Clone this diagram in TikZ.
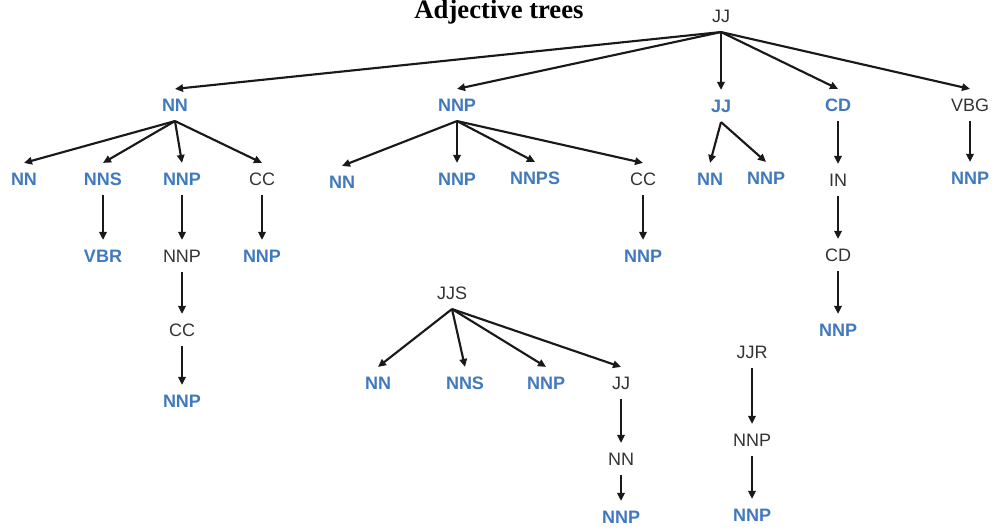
\documentclass[tikz,border=0pt]{standalone}
\usepackage{fontspec}
\setmainfont{Liberation Sans}
\newfontfamily\titlefont{Liberation Serif}
\usetikzlibrary{arrows.meta}
\definecolor{tagblue}{HTML}{4079BD}
\definecolor{taggray}{HTML}{333333}
\begin{document}
\begin{tikzpicture}[x=0.75pt,y=-0.75pt,
  tag/.style={inner xsep=0pt,inner ysep=7pt,text height=9.7pt,text depth=0pt,
    font=\fontsize{13.5pt}{14pt}\selectfont,text=taggray},
  btag/.style={tag,font=\fontsize{13.5pt}{14pt}\selectfont\bfseries,text=tagblue},
  edge/.style={line width=1.6pt,draw=black!90,-{Triangle[length=6pt,width=5.5pt]}}]
\useasboundingbox (0,0) rectangle (994,530);

\node[anchor=base,font=\titlefont\fontsize{20pt}{22pt}\selectfont\bfseries] (title) at (499,19) {Adjective trees};

% main tree
\node[tag]  (root) at (721,16) {JJ};
\node[btag] (a)  at (175,105) {NN};
\node[btag] (b)  at (457,105) {NNP};
\node[btag] (c)  at (721,106) {JJ};
\node[btag] (d)  at (838,105) {CD};
\node[tag]  (e)  at (970,105) {VBG};

\node[btag] (a1) at (24,179)  {NN};
\node[btag] (a2) at (103,179) {NNS};
\node[btag] (a3) at (182,179) {NNP};
\node[tag]  (a4) at (262,179) {CC};
\node[btag] (a2x) at (103,256) {VBR};
\node[tag]  (a3x) at (182,256) {NNP};
\node[btag] (a4x) at (262,256) {NNP};
\node[tag]  (a3y) at (182,330) {CC};
\node[btag] (a3z) at (182,401) {NNP};

\node[btag] (b1) at (342,182) {NN};
\node[btag] (b2) at (457,179) {NNP};
\node[btag] (b3) at (535,178) {NNPS};
\node[tag]  (b4) at (643,179) {CC};
\node[btag] (b4x) at (643,256) {NNP};

\node[btag] (c1) at (710,179) {NN};
\node[btag] (c2) at (766,178) {NNP};

\node[tag]  (d1) at (838,180) {IN};
\node[tag]  (d2) at (838,255) {CD};
\node[btag] (d3) at (838,330) {NNP};

\node[btag] (e1) at (970,178) {NNP};

\foreach \t in {a,b,c,d,e} \draw[edge] (root.south) -- (\t.north);
\foreach \t in {a1,a2,a3,a4} \draw[edge] (a.south) -- (\t.north);
\draw[edge] (a2.south) -- (a2x.north);
\draw[edge] (a3.south) -- (a3x.north);
\draw[edge] (a4.south) -- (a4x.north);
\draw[edge] (a3x.south) -- (a3y.north);
\draw[edge] (a3y.south) -- (a3z.north);
\foreach \t in {b1,b2,b3,b4} \draw[edge] (b.south) -- (\t.north);
\draw[edge] (b4.south) -- (b4x.north);
\foreach \t in {c1,c2} \draw[edge] (c.south) -- (\t.north);
\draw[edge] (d.south) -- (d1.north);
\draw[edge] (d1.south) -- (d2.north);
\draw[edge] (d2.south) -- (d3.north);
\draw[edge] (e.south) -- (e1.north);

% superlative tree
\node[tag]  (s)  at (452,293) {JJS};
\node[btag] (s1) at (378,383) {NN};
\node[btag] (s2) at (465,383) {NNS};
\node[btag] (s3) at (546,383) {NNP};
\node[tag]  (s4) at (621,383) {JJ};
\node[tag]  (s5) at (621,459) {NN};
\node[btag] (s6) at (621,517) {NNP};
\foreach \t in {s1,s2,s3,s4} \draw[edge] (s.south) -- (\t.north);
\draw[edge] (s4.south) -- (s5.north);
\draw[edge] (s5.south) -- (s6.north);

% comparative tree
\node[tag]  (r)  at (752,352) {JJR};
\node[tag]  (r1) at (752,440) {NNP};
\node[btag] (r2) at (752,515) {NNP};
\draw[edge] (r.south) -- (r1.north);
\draw[edge] (r1.south) -- (r2.north);
\end{tikzpicture}
\end{document}
